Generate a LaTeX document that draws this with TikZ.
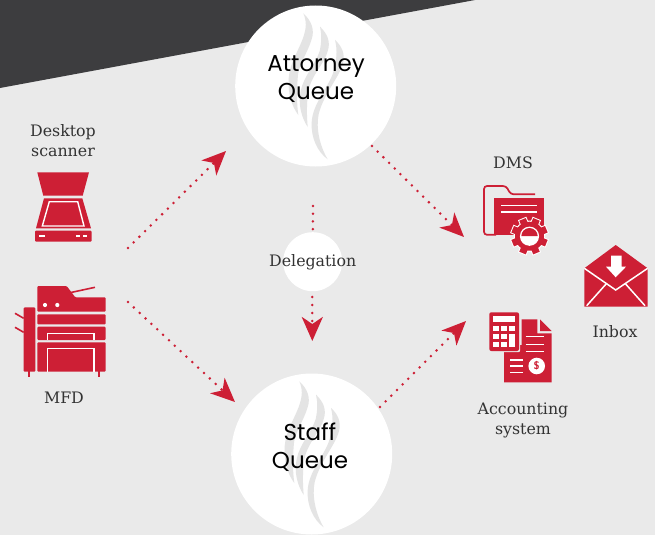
\documentclass[tikz,border=0pt]{standalone}
\usepackage{fontspec}
\usepackage{xcolor}
\usepackage{tikz}
\usetikzlibrary{arrows.meta}
\newfontfamily\labelfont{DejaVu Serif}
\newfontfamily\queuefont{Poppins}
\definecolor{firmred}{HTML}{CD1F35}
\definecolor{paper}{HTML}{EAEAEA}
\definecolor{band}{HTML}{3D3D3F}
\definecolor{wisp}{HTML}{E4E4E4}
\definecolor{inktext}{HTML}{333333}
\tikzset{
	queue/.style={circle, fill=white, minimum size=161pt, inner sep=0pt},
	queuetext/.style={font=\queuefont\fontsize{23}{28}\selectfont, align=center, text=black},
	caption/.style={font=\labelfont\fontsize{15.8}{20}\selectfont, align=center, text=inktext},
	flow/.style={firmred, line width=2.8pt, line cap=round, dash pattern=on 0pt off 8pt, -{Stealth[length=24pt,width=21pt,inset=7pt]}},
	flowplain/.style={firmred, line width=2.8pt, line cap=round, dash pattern=on 0pt off 7.7pt},
	hole/.style={draw=white, line width=1.4pt},
	flamemark/.pic={
		\fill[wisp] (-12.4,-72.7) .. controls (-4,-65) and (-1,-56) .. (-4,-47) .. controls (-8,-33) and (-18,-20) .. (-18,-8) .. controls (-19,5) and (-19,18) .. (-17.4,29) .. controls (-24,20) and (-28,8) .. (-27,-8) .. controls (-26,-22) and (-18,-34) .. (-13,-47) .. controls (-9,-58) and (-9,-65) .. (-12.4,-72.7);
		\fill[wisp] (4.3,-59.3) .. controls (12,-52) and (15,-44) .. (12,-35) .. controls (9,-22) and (-6,-10) .. (-8,9) .. controls (-9,20) and (-9,30) .. (-8,41) .. controls (-14,32) and (-18,18) .. (-15,5) .. controls (-12,-10) and (0,-22) .. (4,-35) .. controls (6,-44) and (6,-52) .. (4.3,-59.3);
		\fill[wisp] (19.3,-46) .. controls (26,-40) and (30,-32) .. (27,-22) .. controls (23,-8) and (8,8) .. (3,28) .. controls (0,42) and (4,60) .. (12,73.3) .. controls (2,66) and (-5,52) .. (-4,36) .. controls (-3,18) and (12,2) .. (17,-12) .. controls (21,-24) and (22,-36) .. (19.3,-46);
	},
}

\begin{document}
\begin{tikzpicture}[x=1pt,y=-1pt]
	\useasboundingbox (0,0) rectangle (655,535);
	\fill[paper] (0,0) rectangle (655,535);
	\fill[band] (0,0) -- (475,0) -- (0,88) -- cycle;

	% queues
	\node[queue] (attorney) at (315.7,86) {};
	\node[queue] (staff) at (311.7,454) {};
	\node[circle, fill=white, minimum size=59pt, inner sep=0pt] (delegation) at (312.7,261.7) {};
	\pic at (attorney) {flamemark};
	\pic at (staff) {flamemark};
	\node[queuetext] (attorney text) at (316,79.5) {Attorney\\Queue};
	\node[queuetext] (staff text) at (310,447) {Staff\\Queue};
	\node[caption] (delegation text) at (312.7,262.5) {Delegation};

	% captions
	\node[caption] (scanner text) at (63,141) {Desktop\\scanner};
	\node[caption] (mfd text) at (64,398) {MFD};
	\node[caption] (dms text) at (513,163) {DMS};
	\node[caption] (inbox text) at (615,332) {Inbox};
	\node[caption] (accounting text) at (523,420.5) {Accounting\\system};

	% connectors
	\coordinate (scanner out) at (128,248);
	\coordinate (attorney in) at (226,151);
	\coordinate (mfd out) at (128,302);
	\coordinate (staff in) at (235,402);
	\coordinate (attorney out) at (372,146);
	\coordinate (dms in) at (464,237);
	\coordinate (staff out) at (380,407);
	\coordinate (accounting in) at (466,321);
	\coordinate (delegation top) at (313,206);
	\coordinate (delegation out) at (312.3,297);
	\coordinate (delegation in) at (312.3,341);
	\draw[flow] (scanner out) -- (attorney in);
	\draw[flow] (mfd out) -- (staff in);
	\draw[flow] (attorney out) -- (dms in);
	\draw[flow] (staff out) -- (accounting in);
	\draw[flowplain] (delegation top) -- (delegation);
	\draw[flow] (delegation out) -- (delegation in);

	% desktop scanner
	\fill[firmred] (37.3,172.3) -- (89,172.3) -- (82.7,195.7) -- (43.3,195.7) -- cycle;
	\fill[firmred] (44,198.3) -- (82.3,198.3) -- (91,228.3) -- (36,228.3) -- cycle;
	\draw[hole] (49.3,201.7) -- (77.7,201.7) -- (84,226) -- (42.3,226) -- cycle;
	\fill[firmred, rounded corners=1pt] (35,230.7) rectangle (91.7,241.7);
	\foreach \x/\w in {42.3/3, 78.3/2, 85/2}
		\fill[white] (\x-\w,235.4) rectangle (\x+\w,237.2);

	% mfd
	\fill[firmred, rounded corners=1pt] (37.3,311.7) -- (37.3,286) -- (66.7,286) -- (75.3,297.3) -- (105.7,297.3) -- (105.7,311.7) -- cycle;
	\draw[firmred, line width=1.6pt] (70,292.7) -- (95,287.3);
	\foreach \x in {45,57.3}
		\fill[white] (\x,305) circle (2.1);
	\fill[firmred, rounded corners=1pt] (37.3,314.3) rectangle (105.7,324.3);
	\fill[firmred, rounded corners=1pt] (37.3,326.7) rectangle (105.7,340);
	\fill[firmred, rounded corners=1pt] (37.3,342.3) rectangle (105.7,371.7);
	\draw[hole] (47.7,340) -- (47.7,333.3) -- (94,333.3) -- (94,340);
	\draw[hole] (47.7,371.7) -- (47.7,348.3) -- (94,348.3) -- (94,371.7);
	\fill[firmred, rounded corners=1pt] (23.7,307.3) rectangle (35.3,371.7);
	\draw[firmred, line width=1.8pt] (29.3,371) -- (29.3,376.7);
	\draw[firmred, line width=1.8pt] (99.3,371) -- (99.3,376.7);
	\draw[firmred, line width=1.6pt] (15,313.3) -- (23.7,318.3);
	\draw[firmred, line width=1.6pt] (15,327.3) -- (23.7,332.3);

	% dms
	\draw[firmred, line width=1.7pt, rounded corners=3pt] (535,194.3) -- (510.7,194.3) -- (506,186) -- (484,186) -- (484,234.8) -- (496,234.8);
	\fill[firmred] (494.3,198.3) rectangle (544.3,235);
	\foreach \y in {205.3,212}
		\draw[white, line width=1.4pt] (501,\y) -- (537.3,\y);
	\coordinate (gear) at (529.5,236.2);
	\fill[white] (gear) circle (15.6);
	\foreach \a in {0,45,...,315}
		\fill[white, rotate around={\a+22.5:(gear)}] (525,236.2) rectangle (534,217);
	\fill[firmred] (gear) circle (14.5);
	\foreach \a in {0,45,...,315}
		\fill[firmred, rotate around={\a+22.5:(gear)}] (526,236.2) rectangle (533,218);
	\fill[white] (gear) circle (9.6);
	\fill[firmred] (521.3,236.2) arc[start angle=180, end angle=360, radius=8.2] -- cycle;

	% accounting system
	\fill[firmred] (521.7,319.3) -- (537.3,319.3) -- (537.3,333.3) -- (551.7,333.3) -- (551.7,382.3) -- (504,382.3) -- (504,345) -- (521.7,345) -- cycle;
	\fill[firmred] (540,319.3) -- (551.7,331.2) -- (540,331.2) -- cycle;
	\fill[paper, rounded corners=2pt] (488.3,311.3) rectangle (520.2,352.2);
	\fill[firmred, rounded corners=2pt] (489.3,312.3) rectangle (519,351);
	\fill[white] (493.3,316.3) rectangle (515,322.3);
	\foreach \x in {493.3,501.3}
		\foreach \y/\h in {326.3/4.7,334.3/4.7,342.3/5}
			\fill[white] (\x,\y) rectangle (\x+5.4,\y+\h);
	\fill[white] (509.3,326.3) rectangle (515,331);
	\fill[white] (509.3,334.3) rectangle (515,347.3);
	\foreach \y in {336.7,344.3,351.7}
		\draw[white, line width=1.2pt] (525.7,\y) -- (544.3,\y);
	\foreach \y in {360,366,372.7}
		\draw[white, line width=1.2pt] (510,\y) -- (523.3,\y);
	\node[circle, fill=white, minimum size=16.6pt, inner sep=0pt, text=firmred, font=\sffamily\bfseries\fontsize{11}{11}\selectfont] (coin) at (536.7,366) {\$};

	% inbox
	\fill[firmred] (615.7,245) -- (647.7,268.3) -- (647.7,306.7) -- (584.3,306.7) -- (584.3,268.3) -- cycle;
	\draw[white, line width=1.5pt] (584.3,268.3) -- (615.7,290) -- (647.7,268.3);
	\draw[white, line width=1.5pt] (606.7,283.3) -- (586.7,305.7);
	\draw[white, line width=1.5pt] (625,283.3) -- (645,305.7);
	\fill[white] (611,255.7) -- (621.7,255.7) -- (621.7,266.7) -- (626,266.7) -- (615.7,277.3) -- (606,266.7) -- (611,266.7) -- cycle;
\end{tikzpicture}
\end{document}
